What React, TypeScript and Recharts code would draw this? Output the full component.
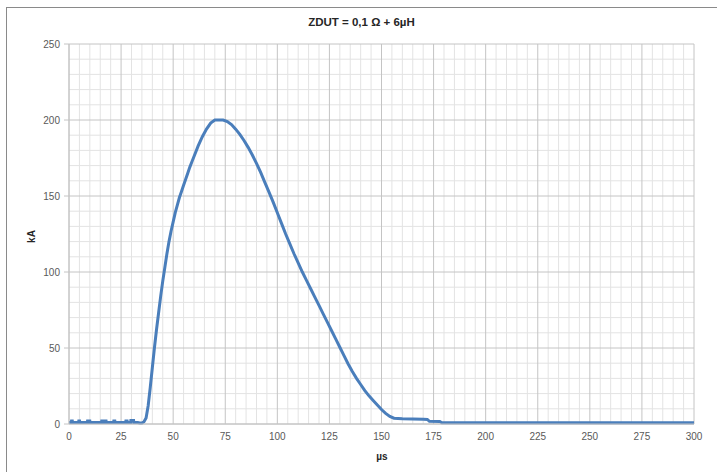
import React from "react";
import { LineChart, Line, XAxis, YAxis, ReferenceLine } from "recharts";

const timeUs: number[] = [
  0, 1.1, 1.2, 1.6, 1.7, 4.6, 4.7, 5.1, 5.2, 8.8, 8.9, 10, 10.1, 15.6, 15.7, 16.2, 16.3,
  17.2, 17.3, 17.8, 17.9, 21.4, 21.5, 22, 22.1, 27.2, 27.3, 27.9, 28, 29.6, 29.7, 31, 31.1, 33, 34, 35, 36,
  37, 38, 39, 40, 41, 42, 43, 44, 45, 46, 47, 48, 49, 50, 51, 52, 53, 54, 55, 56, 57, 58, 59, 60,
  62, 64, 66, 68, 70, 74, 76, 78, 80, 82, 84, 86, 88, 90, 92, 94, 96, 98, 100,
  102, 104, 106, 108, 110, 112, 114, 116, 118, 120, 122, 124, 126, 128, 130, 132, 134, 136, 138, 140,
  142, 144, 146, 148, 150, 152, 154, 156, 160, 165, 170, 172, 173, 178, 179, 200, 250, 300,
];

const currentKA: number[] = [
  1, 1, 1.9, 1.9, 1, 1, 1.9, 1.9, 1, 1, 1.9, 1.9, 1, 1, 1.9, 1.9, 1,
  1, 1.9, 1.9, 1, 1, 1.9, 1.9, 1, 1, 1.9, 1.9, 1, 1, 2.3, 2.3, 1, 1, 0.7, 0.7, 1.5,
  4, 12, 24, 37, 50, 62, 73, 84, 94, 103, 112, 120, 127, 133, 139, 144, 149, 153, 157, 161, 165, 169, 172.5, 176,
  183, 189, 194, 198, 200, 200, 199, 197, 194, 190.5, 186.5, 182, 177, 171.5, 165.5, 159, 152.5, 146, 139,
  132, 125, 118.5, 112, 106, 100, 94.5, 89, 83.5, 78, 72.5, 67, 61.5, 56, 50.5, 45, 39.5, 34.5, 30, 26,
  22, 18.5, 15.5, 12.5, 9.5, 7, 5, 3.8, 3.4, 3.3, 3.2, 3, 1.8, 1.6, 0.8, 0.8, 0.8, 0.8,
];

const xMajorTicks: number[] = [0, 25, 50, 75, 100, 125, 150, 175, 200, 225, 250, 275, 300];
const xMinorTicks: number[] = [
  5, 10, 15, 20, 30, 35, 40, 45, 55, 60, 65, 70, 80, 85, 90, 95, 105, 110, 115, 120,
  130, 135, 140, 145, 155, 160, 165, 170, 180, 185, 190, 195, 205, 210, 215, 220,
  230, 235, 240, 245, 255, 260, 265, 270, 280, 285, 290, 295,
];
const yMajorTicks: number[] = [0, 50, 100, 150, 200, 250];
const yMinorTicks: number[] = [10, 20, 30, 40, 60, 70, 80, 90, 110, 120, 130, 140, 160, 170, 180, 190, 210, 220, 230, 240];

const data = timeUs.map((t, i) => ({ t, kA: currentKA[i] }));

const FONT = "'Liberation Sans', Arial, sans-serif";
const MINOR = "#e3e3e3";
const MAJOR = "#c4c4c4";
const tickStyle = { fontSize: 10, fill: "#595959", fontFamily: FONT };

export default function App() {
  return (
    <div style={{ position: "absolute", left: 0, top: 0, width: 717, height: 472, background: "#fff", fontFamily: FONT }}>
      <div style={{ position: "absolute", left: 6, top: 7, width: 711, height: 465, borderTop: "1px solid #8a8a8a", borderLeft: "1px solid #8a8a8a" }} />
      <div style={{ position: "absolute", left: 0, top: 16, width: 723, textAlign: "center", fontSize: 11.5, fontWeight: "bold", color: "#262626" }}>
        ZDUT = 0,1 Ω + 6µH
      </div>
      <div style={{ position: "absolute", left: 19, top: 231, width: 24, textAlign: "center", fontSize: 10, fontWeight: "bold", color: "#262626", transform: "rotate(-90deg)" }}>
        kA
      </div>
      <div style={{ position: "absolute", left: 362, top: 451, width: 40, textAlign: "center", fontSize: 10, fontWeight: "bold", color: "#262626" }}>
        µs
      </div>
      <div style={{ position: "absolute", left: 0, top: 0 }}>
        <LineChart width={717} height={472} data={data} margin={{ top: 44, right: 23, bottom: 18, left: 29 }}>
          <XAxis
            dataKey="t"
            type="number"
            domain={[0, 300]}
            ticks={xMajorTicks}
            interval={0}
            height={30}
            tickSize={0}
            tickMargin={9}
            axisLine={{ stroke: MAJOR }}
            tick={tickStyle}
          />
          <YAxis
            type="number"
            domain={[0, 250]}
            ticks={yMajorTicks}
            interval={0}
            width={40}
            tickSize={5}
            tickMargin={4}
            axisLine={{ stroke: MAJOR }}
            tickLine={{ stroke: MAJOR }}
            tick={tickStyle}
          />
          {xMinorTicks.map((v) => (
            <ReferenceLine key={"xm" + v} x={v} stroke={MINOR} strokeWidth={1} />
          ))}
          {yMinorTicks.map((v) => (
            <ReferenceLine key={"ym" + v} y={v} stroke={MINOR} strokeWidth={1} />
          ))}
          {xMajorTicks.map((v) => (
            <ReferenceLine key={"xM" + v} x={v} stroke={MAJOR} strokeWidth={1} />
          ))}
          {yMajorTicks.map((v) => (
            <ReferenceLine key={"yM" + v} y={v} stroke={MAJOR} strokeWidth={1} />
          ))}
          <Line
            dataKey="kA"
            type="linear"
            stroke="#4a7ebb"
            strokeWidth={3}
            dot={false}
            isAnimationActive={false}
          />
        </LineChart>
      </div>
    </div>
  );
}
